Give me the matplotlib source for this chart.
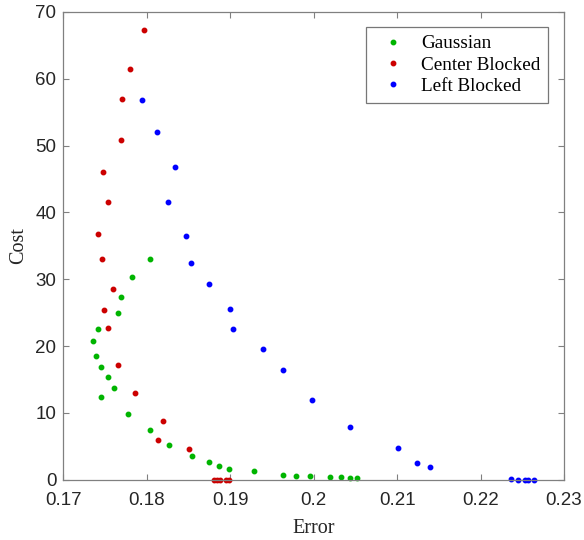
import matplotlib.pyplot as plt

# Error / cost pairs for each aperture type
gauss_err = [0.1804, 0.1782, 0.1769, 0.1765, 0.1742, 0.1735, 0.1739, 0.1745, 0.1753, 0.1761,
             0.1745, 0.1777, 0.1804, 0.1827, 0.1854, 0.1874, 0.1887, 0.1899, 0.1929, 0.1963,
             0.1979, 0.1996, 0.2020, 0.2033, 0.2044, 0.2052]
gauss_cost = [33.1, 30.3, 27.3, 25.0, 22.6, 20.7, 18.5, 16.9, 15.4, 13.7,
              12.4, 9.8, 7.5, 5.2, 3.6, 2.65, 2.05, 1.65, 1.26, 0.75,
              0.55, 0.5, 0.4, 0.36, 0.3, 0.3]

center_err = [0.1797, 0.1780, 0.1770, 0.1769, 0.1748, 0.1753, 0.1742, 0.1746, 0.1760, 0.1749,
              0.1753, 0.1765, 0.1786, 0.1819, 0.1814, 0.1851, 0.1880, 0.1884, 0.1888, 0.1895,
              0.1899]
center_cost = [67.3, 61.5, 57.0, 50.9, 46.1, 41.5, 36.8, 33.1, 28.6, 25.4,
               22.7, 17.2, 13.0, 8.8, 5.9, 4.6, 0.0, 0.0, 0.0, 0.0,
               0.0]

left_err = [0.1794, 0.1812, 0.1834, 0.1826, 0.1847, 0.1853, 0.1874, 0.1900, 0.1903, 0.1939,
            0.1963, 0.1998, 0.2043, 0.2101, 0.2124, 0.2139, 0.2236, 0.2245, 0.2253, 0.2257,
            0.2264]
left_cost = [56.8, 52.0, 46.8, 41.6, 36.4, 32.5, 29.3, 25.5, 22.5, 19.6,
             16.4, 11.9, 7.9, 4.7, 2.55, 1.9, 0.15, 0.0, 0.0, 0.0,
             0.0]

fig = plt.figure(figsize=(5.84, 5.40), dpi=100)
ax = fig.add_axes([0.1084, 0.1117, 0.8574, 0.8661])

ax.plot(gauss_err, gauss_cost, 'o', color='#00b400', markersize=3.2, label='Gaussian', clip_on=False)
ax.plot(center_err, center_cost, 'o', color='#cc0000', markersize=3.2, label='Center Blocked', clip_on=False)
ax.plot(left_err, left_cost, 'o', color='#0000ff', markersize=3.2, label='Left Blocked', clip_on=False)

ax.set_xlim(0.17, 0.23)
ax.set_ylim(0, 70)
ax.set_xticks([0.17, 0.18, 0.19, 0.2, 0.21, 0.22, 0.23])
ax.set_xticklabels(['0.17', '0.18', '0.19', '0.2', '0.21', '0.22', '0.23'])
ax.set_yticks(range(0, 71, 10))

for s in ax.spines.values():
    s.set_color('#808080')
    s.set_linewidth(0.9)
ax.tick_params(direction='in', length=4, width=0.8, color='#808080', top=True, right=True,
               labelsize=13.5, labelcolor='#262626', pad=5)
ax.tick_params(axis='x', pad=9)
for lbl in ax.get_xticklabels() + ax.get_yticklabels():
    lbl.set_family('Liberation Sans')

ax.set_xlabel('Error', family='Liberation Serif', fontsize=14.5, color='#262626', labelpad=7)
ax.set_ylabel('Cost', family='Liberation Serif', fontsize=14.5, color='#262626', labelpad=5)

leg = ax.legend(loc='upper right', bbox_to_anchor=(0.9686, 0.9673), fancybox=False,
                prop={'family': 'Liberation Serif', 'size': 13.8}, handletextpad=0.48,
                borderpad=0.4, labelspacing=0.2, handlelength=2.0, borderaxespad=0)
leg.get_frame().set_edgecolor('#555555')
leg.get_frame().set_linewidth(0.9)

fig.savefig('out.png', dpi=100)
